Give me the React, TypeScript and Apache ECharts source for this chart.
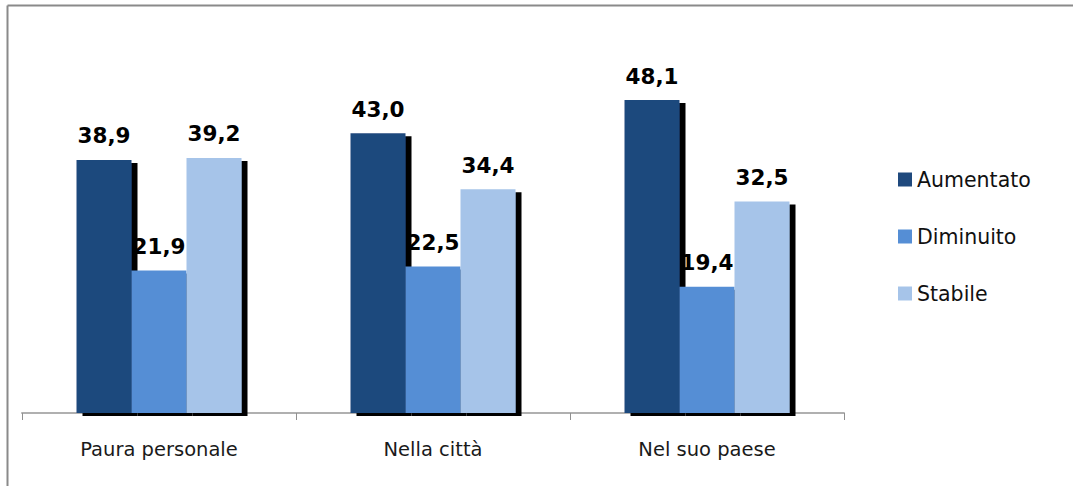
import React, { useEffect, useRef } from "react";
import * as echarts from "echarts";

const categories = ["Paura personale", "Nella città", "Nel suo paese"];
const seriesNames = ["Aumentato", "Diminuito", "Stabile"];
const aumentato = [38.9, 43.0, 48.1];
const diminuito = [21.9, 22.5, 19.4];
const stabile = [39.2, 34.4, 32.5];
const colors = ["#1F497D", "#558ED5", "#A6C4E9"];

export default function App() {
  const ref = useRef<HTMLDivElement>(null);
  useEffect(() => {
    if (!ref.current) return;
    const chart = echarts.init(ref.current, null, { renderer: "svg" });
    const values = [aumentato, diminuito, stabile];
    chart.setOption({
      animation: false,
      backgroundColor: "#ffffff",
      textStyle: { fontFamily: "DejaVu Sans" },
      graphic: [
        {
          type: "line",
          shape: { x1: 7.5, y1: 5.5, x2: 1073, y2: 5.5 },
          style: { stroke: "#8a8a8a", lineWidth: 2 },
          silent: true,
        },
        {
          type: "line",
          shape: { x1: 7.5, y1: 5.5, x2: 7.5, y2: 486 },
          style: { stroke: "#8a8a8a", lineWidth: 2 },
          silent: true,
        },
      ],
      grid: { left: 22, right: 229, top: 22.6, bottom: 73 },
      legend: {
        orient: "vertical",
        left: 893,
        top: 164,
        itemWidth: 14,
        itemHeight: 14,
        itemGap: 36,
        icon: "rect",
        textStyle: { fontSize: 20.5, color: "#111", fontFamily: "DejaVu Sans" },
        data: seriesNames,
      },
      xAxis: {
        type: "category",
        data: categories,
        axisLine: { lineStyle: { color: "#b0b0b0", width: 2 } },
        axisTick: { show: true, length: 7, lineStyle: { color: "#909090" } },
        axisLabel: { fontSize: 19.5, color: "#1a1a1a", margin: 26, fontFamily: "DejaVu Sans" },
      },
      yAxis: { type: "value", min: 0, max: 60, show: false, splitLine: { show: false } },
      series: seriesNames.map((name, i) => ({
        name,
        type: "bar",
        data: values[i],
        barWidth: 55,
        barGap: "0%",
        itemStyle: {
          color: colors[i],
          shadowColor: "#000000",
          shadowOffsetX: 6,
          shadowOffsetY: 3,
          shadowBlur: 0,
        },
        label: {
          show: true,
          position: "top",
          distance: 13,
          fontSize: 21.5,
          fontWeight: "bold",
          color: "#000",
          fontFamily: "DejaVu Sans",
          formatter: (p: any) => p.value.toFixed(1).replace(".", ","),
        },
      })),
    });
    return () => chart.dispose();
  }, []);
  return (
    <div
      ref={ref}
      style={{ position: "fixed", left: 0, top: 0, width: 1073, height: 486 }}
    />
  );
}
